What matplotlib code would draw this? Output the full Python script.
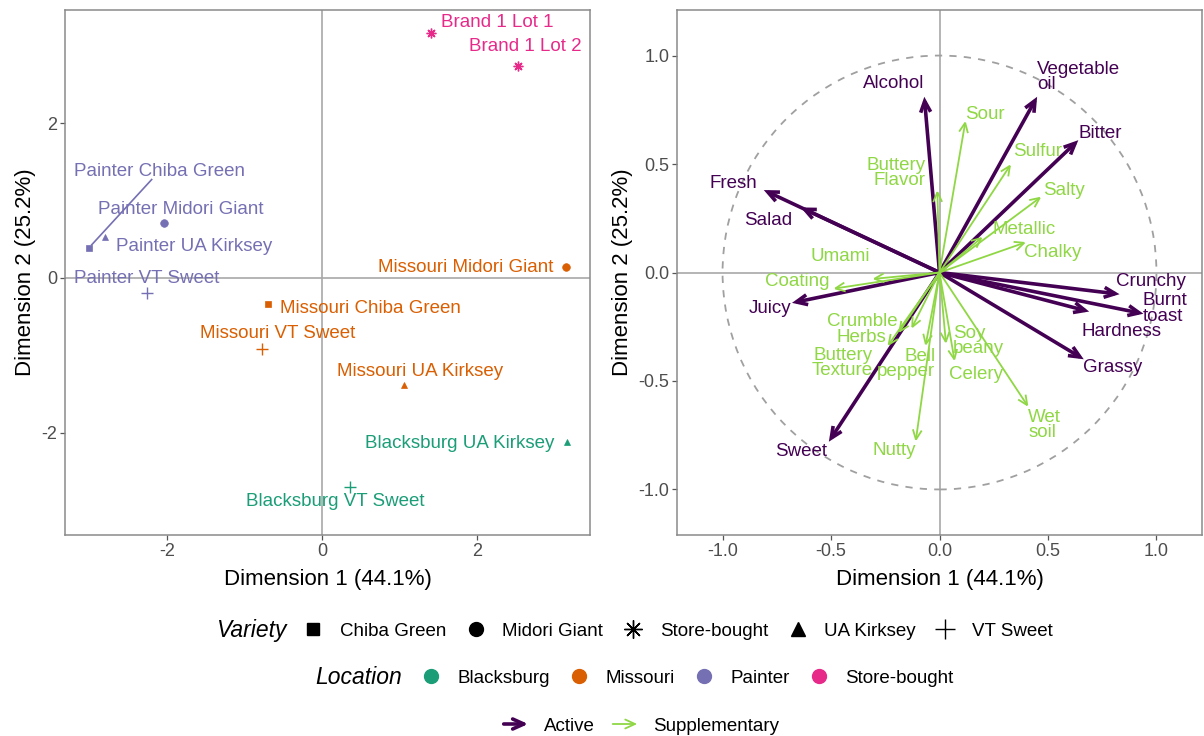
import matplotlib
matplotlib.use('Agg')
import numpy as np
import matplotlib.pyplot as plt
from matplotlib.lines import Line2D
from matplotlib.patches import FancyArrowPatch, Circle
from matplotlib.legend_handler import HandlerBase

plt.rcParams['font.family'] = ['Liberation Sans', 'DejaVu Sans']
plt.rcParams['axes.unicode_minus'] = False

# ---- sample scores (individuals map) ----
sample_names = ['Brand 1 Lot 1', 'Brand 1 Lot 2', 'Painter Chiba Green', 'Painter Midori Giant',
                'Painter UA Kirksey', 'Painter VT Sweet', 'Missouri Chiba Green', 'Missouri Midori Giant',
                'Missouri UA Kirksey', 'Missouri VT Sweet', 'Blacksburg UA Kirksey', 'Blacksburg VT Sweet']
sample_location = ['Store-bought', 'Store-bought', 'Painter', 'Painter', 'Painter', 'Painter',
                   'Missouri', 'Missouri', 'Missouri', 'Missouri', 'Blacksburg', 'Blacksburg']
sample_variety = ['Store-bought', 'Store-bought', 'Chiba Green', 'Midori Giant', 'UA Kirksey', 'VT Sweet',
                  'Chiba Green', 'Midori Giant', 'UA Kirksey', 'VT Sweet', 'UA Kirksey', 'VT Sweet']
sample_dim1 = [1.41, 2.53, -3.01, -2.04, -2.80, -2.26, -0.70, 3.15, 1.06, -0.77, 3.16, 0.36]
sample_dim2 = [3.16, 2.74, 0.39, 0.71, 0.53, -0.19, -0.34, 0.14, -1.38, -0.92, -2.12, -2.70]

# ---- attribute loadings (variables map) ----
active_names = ['Alcohol', 'Vegetable\noil', 'Bitter', 'Fresh', 'Salad', 'Juicy', 'Sweet',
                'Crunchy', 'Burnt\ntoast', 'Hardness', 'Grassy']
active_dim1 = [-0.07, 0.45, 0.64, -0.81, -0.64, -0.68, -0.51, 0.83, 0.94, 0.69, 0.665]
active_dim2 = [0.81, 0.81, 0.61, 0.38, 0.30, -0.14, -0.78, -0.10, -0.19, -0.18, -0.40]

supp_names = ['Sour', 'Sulfur', 'Buttery\nFlavor', 'Salty', 'Metallic', 'Chalky', 'Umami', 'Coating',
              'Crumble', 'Herbs', 'Buttery\nTexture', 'Bell\npepper', 'Soy\nbeany', 'Celery', 'Wet\nsoil', 'Nutty']
supp_dim1 = [0.12, 0.33, -0.01, 0.47, 0.20, 0.40, -0.31, -0.49, -0.13, -0.19, -0.24, -0.065, 0.03, 0.07, 0.41, -0.11]
supp_dim2 = [0.70, 0.50, 0.38, 0.35, 0.165, 0.14, -0.03, -0.075, -0.26, -0.28, -0.34, -0.34, -0.33, -0.41, -0.62, -0.78]

# repelled label placement
sample_lab_x = [2.26, 2.63, -2.10, -1.83, -1.65, -2.26, 0.62, 1.86, 1.26, -0.57, 1.78, 0.17]
sample_lab_y = [3.30, 2.99, 1.38, 0.89, 0.40, -0.01, -0.39, 0.13, -1.21, -0.72, -2.14, -2.89]
active_lab_x = [-0.21, 0.64, 0.74, -0.95, -0.79, -0.78, -0.64, 0.975, 1.04, 0.84, 0.80]
active_lab_y = [0.87, 0.90, 0.64, 0.41, 0.24, -0.166, -0.825, -0.04, -0.166, -0.27, -0.44]
supp_lab_x = [0.21, 0.45, -0.20, 0.575, 0.39, 0.52, -0.456, -0.654, -0.357, -0.36, -0.447, -0.154,
              0.18, 0.168, 0.485, -0.207]
supp_lab_y = [0.73, 0.56, 0.46, 0.378, 0.198, 0.093, 0.074, -0.041, -0.226, -0.30, -0.417, -0.42,
              -0.315, -0.47, -0.705, -0.82]

loc_colors = {'Blacksburg': '#1B9E77', 'Missouri': '#D95F02', 'Painter': '#7570B3', 'Store-bought': '#E7298A'}
var_markers = {'Chiba Green': 's', 'Midori Giant': 'o', 'Store-bought': (8, 2, 0),
               'UA Kirksey': '^', 'VT Sweet': '+'}
var_msize = {'Chiba Green': 4.5, 'Midori Giant': 5.5, 'Store-bought': 7, 'UA Kirksey': 5, 'VT Sweet': 8}
col_active = '#440154'
col_supp = '#8FD744'
border_col = '#8a8a8a'
zero_col = '#a8a8a8'


def style_axes(ax, lim, ticks, fmt):
    ax.set_xlim(lim)
    ax.set_ylim(lim)
    ax.set_xticks(ticks)
    ax.set_yticks(ticks)
    ax.set_xticklabels([fmt % t for t in ticks])
    ax.set_yticklabels([fmt % t for t in ticks])
    ax.axhline(0, color=zero_col, lw=1.2, zorder=0)
    ax.axvline(0, color=zero_col, lw=1.2, zorder=0)
    for s in ax.spines.values():
        s.set_color(border_col)
        s.set_linewidth(1.1)
    ax.tick_params(length=3.5, width=0.9, color='#555555', labelcolor='#4d4d4d', labelsize=13, pad=2)
    ax.set_xlabel('Dimension 1 (44.1%)', fontsize=16, labelpad=7)
    ax.set_ylabel('Dimension 2 (25.2%)', fontsize=16, labelpad=4)


fig = plt.figure(figsize=(12.04, 7.36), dpi=100)
ax1 = fig.add_axes([65 / 1204, 1 - 535 / 736, 525 / 1204, 525 / 736])
ax2 = fig.add_axes([677 / 1204, 1 - 535 / 736, 525 / 1204, 525 / 736])

# left: individuals
style_axes(ax1, (-3.32, 3.46), [-2, 0, 2], '%d')
labels = []
for i, name in enumerate(sample_names):
    c = loc_colors[sample_location[i]]
    v = sample_variety[i]
    ax1.plot(sample_dim1[i], sample_dim2[i], ls='', marker=var_markers[v], ms=var_msize[v],
             color=c, mew=1.0 if v in ('VT Sweet', 'Store-bought') else 0.5, zorder=3)
    labels.append(ax1.text(sample_lab_x[i], sample_lab_y[i], name, color=c, fontsize=13.5,
                           ha='center', va='center', zorder=4))

# leader segments for labels that ended up away from their point
renderer = fig.canvas.get_renderer()
inv = ax1.transData.inverted()
for i, t in enumerate(labels):
    bb = t.get_window_extent(renderer)
    px, py = ax1.transData.transform((sample_dim1[i], sample_dim2[i]))
    nx = min(max(px, bb.x0), bb.x1)
    ny = min(max(py, bb.y0), bb.y1)
    if np.hypot(px - nx, py - ny) < 20:
        continue
    cx, cy = (bb.x0 + bb.x1) / 2, (bb.y0 + bb.y1) / 2
    dx, dy = px - cx, py - cy
    s = min(bb.width / 2 / max(abs(dx), 1e-9), bb.height / 2 / max(abs(dy), 1e-9))
    start = inv.transform((cx + dx * s, cy + dy * s))
    d = np.hypot(dx, dy)
    end = inv.transform((px - dx / d * 4, py - dy / d * 4))
    ax1.plot([start[0], end[0]], [start[1], end[1]], color=t.get_color(), lw=1.2, zorder=2)

# right: variables
style_axes(ax2, (-1.21, 1.21), [-1.0, -0.5, 0.0, 0.5, 1.0], '%.1f')
ax2.add_patch(Circle((0, 0), 1.0, fill=False, ls=(0, (4, 4)), color='#a0a0a0', lw=1.3, zorder=1))

act_style = '->,head_length=8,head_width=3.6'
sup_style = '->,head_length=7,head_width=3.2'
for i in range(len(active_names)):
    ax2.add_patch(FancyArrowPatch((0, 0), (active_dim1[i], active_dim2[i]), arrowstyle=act_style,
                                  mutation_scale=1, color=col_active, lw=2.6, shrinkA=0, shrinkB=0,
                                  joinstyle='miter', capstyle='butt', zorder=2))
for i in range(len(supp_names)):
    ax2.add_patch(FancyArrowPatch((0, 0), (supp_dim1[i], supp_dim2[i]), arrowstyle=sup_style,
                                  mutation_scale=1, color=col_supp, lw=1.3, shrinkA=0, shrinkB=0,
                                  joinstyle='miter', capstyle='butt', zorder=3))
for names, d1, lx, ly, c in [(active_names, active_dim1, active_lab_x, active_lab_y, col_active),
                             (supp_names, supp_dim1, supp_lab_x, supp_lab_y, col_supp)]:
    for i, name in enumerate(names):
        ax2.text(lx[i], ly[i], name, color=c, fontsize=13.5, ha='center', va='center',
                 linespacing=0.85, multialignment='left' if lx[i] > d1[i] else 'right', zorder=4)


# ---- legends ----
class ArrowKey(HandlerBase):
    def __init__(self, style):
        super().__init__()
        self.style = style

    def create_artists(self, legend, orig_handle, xdescent, ydescent, width, height, fontsize, trans):
        y = height / 2 - ydescent
        a = FancyArrowPatch((-xdescent, y), (-xdescent + width, y), arrowstyle=self.style,
                            mutation_scale=1, color=orig_handle.get_color(),
                            lw=orig_handle.get_linewidth(), transform=trans)
        return [a]


var_order = ['Chiba Green', 'Midori Giant', 'Store-bought', 'UA Kirksey', 'VT Sweet']
var_handles = [Line2D([], [], ls='', marker=var_markers[v], color='black', mew=1.0,
                      ms={'Chiba Green': 9, 'Midori Giant': 10, 'Store-bought': 13,
                          'UA Kirksey': 10, 'VT Sweet': 14}[v]) for v in var_order]
leg1 = fig.legend(var_handles, var_order, loc='center left', bbox_to_anchor=(302 / 1204, 1 - 631 / 736),
                  ncol=5, frameon=False, fontsize=13.5, handlelength=1.2, handletextpad=0.82,
                  columnspacing=0.98, borderpad=0, borderaxespad=0)
fig.text(216 / 1204, 1 - 631 / 736, 'Variety', fontsize=16.5, style='italic', ha='left', va='center')

loc_order = ['Blacksburg', 'Missouri', 'Painter', 'Store-bought']
loc_handles = [Line2D([], [], ls='', marker='o', ms=10, color=loc_colors[l]) for l in loc_order]
leg2 = fig.legend(loc_handles, loc_order, loc='center left', bbox_to_anchor=(420 / 1204, 1 - 678 / 736),
                  ncol=4, frameon=False, fontsize=13.5, handlelength=1.2, handletextpad=0.8,
                  columnspacing=0.96, borderpad=0, borderaxespad=0)
fig.text(315 / 1204, 1 - 678 / 736, 'Location', fontsize=16.5, style='italic', ha='left', va='center')

h_act = Line2D([], [], color=col_active, lw=2.6)
h_sup = Line2D([], [], color=col_supp, lw=1.3)
leg3 = fig.legend([h_act, h_sup], ['Active', 'Supplementary'], loc='center',
                  bbox_to_anchor=(640 / 1204, 1 - 726 / 736), ncol=2, frameon=False, fontsize=13.5,
                  handlelength=1.6, handletextpad=0.7, columnspacing=0.8, borderpad=0, borderaxespad=0,
                  handler_map={h_act: ArrowKey(act_style), h_sup: ArrowKey(sup_style)})

fig.savefig('out.png', dpi=100)
